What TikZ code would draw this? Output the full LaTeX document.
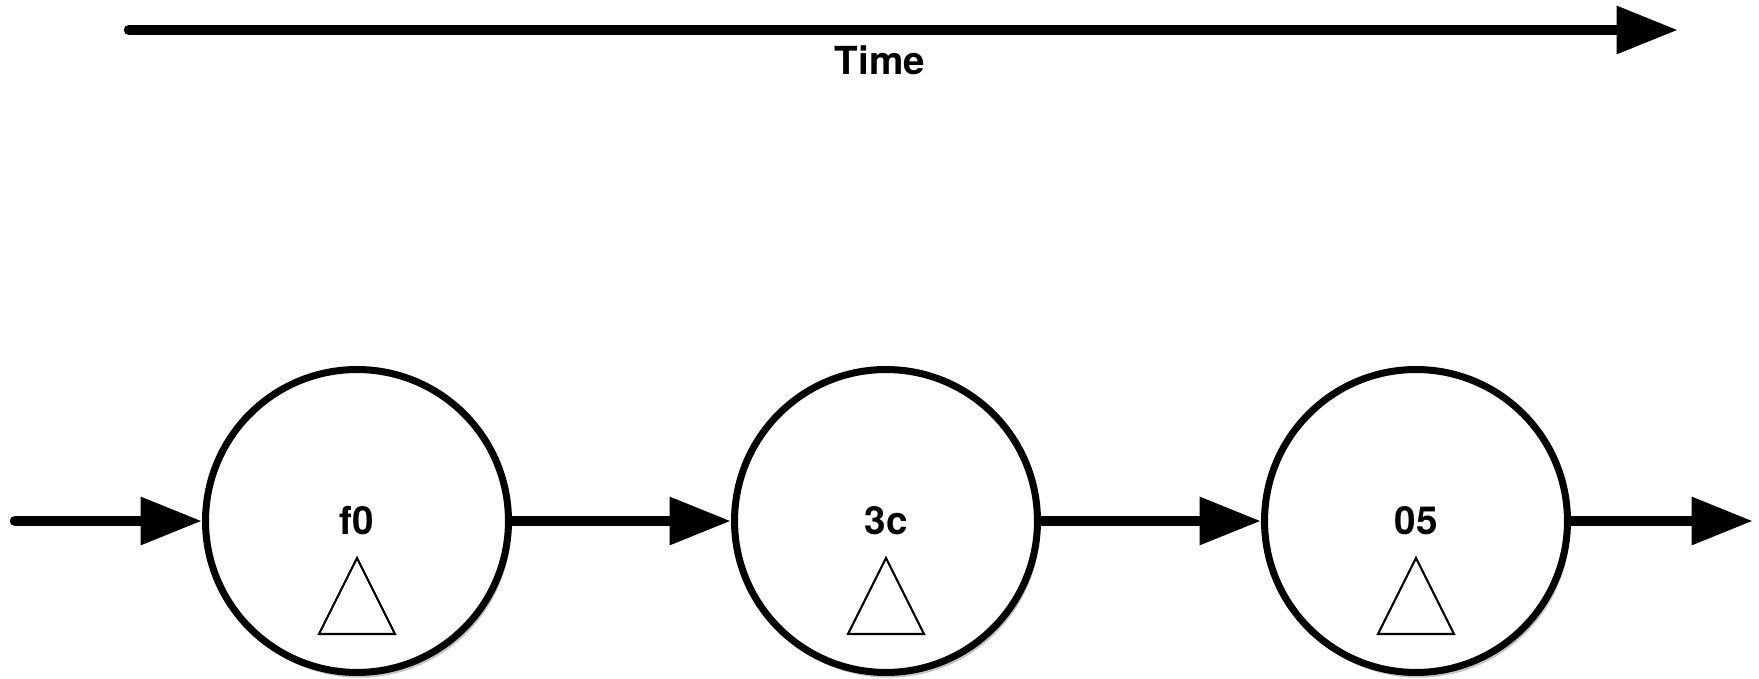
\documentclass[tikz,border=0pt]{standalone}
\usepackage{fontspec}
\setmainfont{TeX Gyre Heros}
\usetikzlibrary{arrows.meta,positioning,shadows}

\begin{document}
\begin{tikzpicture}
  [x=0.02cm,y=0.02cm,
    every node/.style={font=\bfseries\fontsize{22}{26}\selectfont},
    state/.style={circle,draw,line width=4pt,minimum size=6.06cm,fill=white,
      drop shadow={opacity=0.45,shadow xshift=1.5pt,shadow yshift=-3pt}},
    link/.style={line width=6pt,line cap=round,-{Triangle[length=35pt,width=26pt]}},
    tri/.style={line width=1.2pt,line join=miter}]
  \useasboundingbox (0,0) rectangle (1759,679);
  % time axis
  \coordinate (t0) at (129,649);
  \coordinate (t1) at (1678,649);
  \draw[link] (t0) -- (t1);
  \node (time) at (880,619) {Time};
  % chain of states
  \foreach \name/\x/\lbl in {s1/357/f0,s2/886/3c,s3/1416/05}
    \node[state] (\name) at (\x,158) {\lbl};
  \foreach \name in {s1,s2,s3}
    \draw[tri,shift={(\name.center)}] (0,-37) -- (38,-113) -- (-38,-113) -- cycle;
  \coordinate (in) at (15,158);
  \coordinate (out) at (1753,158);
  \foreach \from/\to in {in/s1,s1/s2,s2/s3,s3/out}
    \draw[link] (\from) -- (\to);
\end{tikzpicture}
\end{document}
